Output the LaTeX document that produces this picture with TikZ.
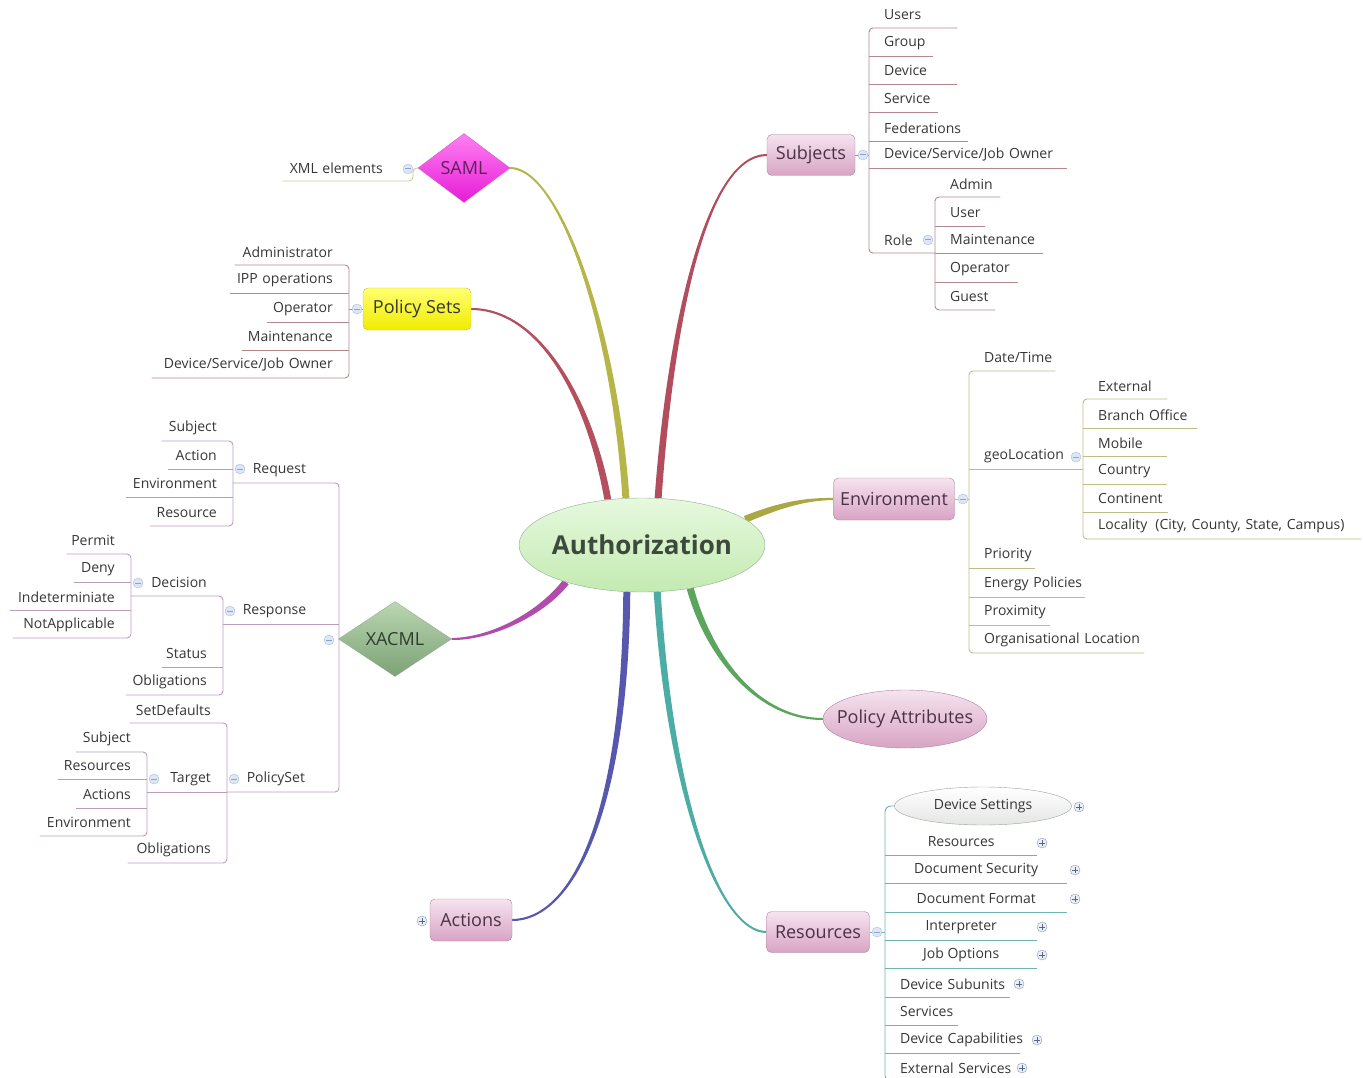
\documentclass[tikz,border=0pt]{standalone}
\usepackage{fontspec}
\setmainfont{Open Sans}
\usetikzlibrary{shapes.geometric,calc,backgrounds}

\definecolor{txt}{HTML}{363636}
\definecolor{pinkT}{HTML}{F6E3EF}
\definecolor{pinkB}{HTML}{D8A4C4}
\definecolor{pinkL}{HTML}{A98499}
\definecolor{pinkTxt}{HTML}{4A3246}
\definecolor{authT}{HTML}{E6F9DE}
\definecolor{authB}{HTML}{C4EAB2}
\definecolor{authL}{HTML}{8EAE89}
\definecolor{authTxt}{HTML}{3B4A3B}
\definecolor{ylwT}{HTML}{FFFF70}
\definecolor{ylwB}{HTML}{F0EC00}
\definecolor{ylwL}{HTML}{C8B540}
\definecolor{samlT}{HTML}{FF80F2}
\definecolor{samlB}{HTML}{E61CD6}
\definecolor{samlL}{HTML}{D45CC6}
\definecolor{samlTxt}{HTML}{5E1F5C}
\definecolor{xacT}{HTML}{BAD6B2}
\definecolor{xacB}{HTML}{7CA275}
\definecolor{xacL}{HTML}{98AE94}
\definecolor{xacTxt}{HTML}{2E3E2E}
\definecolor{setT}{HTML}{FFFFFF}
\definecolor{setB}{HTML}{E4E6E4}
\definecolor{setL}{HTML}{9AA39A}
\definecolor{iconF}{HTML}{DCE6F5}
\definecolor{iconL}{HTML}{AABDDD}
\definecolor{iconS}{HTML}{8EA4CF}
\definecolor{plusF}{HTML}{EAEFF7}
\definecolor{plusL}{HTML}{8C9BB5}
\definecolor{plusS}{HTML}{56668A}
\definecolor{bSubj}{HTML}{B24D5E}
\definecolor{bSaml}{HTML}{B5B54A}
\definecolor{bPset}{HTML}{B4505E}
\definecolor{bXac}{HTML}{B04CAA}
\definecolor{bEnv}{HTML}{A9A842}
\definecolor{bAttr}{HTML}{5CA55C}
\definecolor{bRes}{HTML}{4EACA6}
\definecolor{bAct}{HTML}{5757AE}
\definecolor{lSubj}{HTML}{B4878F}
\definecolor{lSaml}{HTML}{CACA8E}
\definecolor{lXac}{HTML}{BC9CBC}
\definecolor{lEnv}{HTML}{BDBD85}
\definecolor{lRes}{HTML}{6FB3B3}

\tikzset{
  leaf/.style={font=\fontsize{14}{16}\selectfont, text=txt, inner sep=0pt, minimum height=26pt},
  cleaf/.style={leaf, anchor=south west, minimum width=#1},
  rleaf/.style={leaf, anchor=south west, text width=#1, align=left, execute at begin node={\rule{15pt}{0pt}}},
  lleaf/.style={leaf, anchor=south east, text width=#1, align=right, execute at end node={\rule{16pt}{0pt}}},
  lhead/.style={leaf, anchor=south east, text width=#1, align=left, execute at begin node={\rule{20pt}{0pt}}},
  topic/.style={rectangle, rounded corners=5pt, draw=pinkL, top color=pinkT, bottom color=pinkB, text=pinkTxt, font=\fontsize{18}{20}\selectfont, inner sep=0pt},
  fold/.style={circle, draw=iconL, fill=iconF, minimum size=10pt, inner sep=0pt,
    path picture={\draw[iconS, line width=1pt] ([xshift=-3pt]path picture bounding box.center) -- ([xshift=3pt]path picture bounding box.center);}},
  unfold/.style={circle, draw=plusL, fill=plusF, minimum size=10pt, inner sep=0pt,
    path picture={\draw[plusS, line width=0.8pt] ([xshift=-3pt]path picture bounding box.center) -- ([xshift=3pt]path picture bounding box.center)
      ([yshift=-3pt]path picture bounding box.center) -- ([yshift=3pt]path picture bounding box.center);}},
  subjline/.style={draw=lSubj, line width=0.9pt},
  samlline/.style={draw=lSaml, line width=0.9pt},
  xacline/.style={draw=lXac, line width=0.9pt},
  envline/.style={draw=lEnv, line width=0.9pt},
  resline/.style={draw=lRes, line width=0.9pt}
}

% tapered main branch: colour, start, control 1, control 2, end, start half width, end half width
\newcommand{\branch}[7]{%
  \fill[#1] ($(#2)+(#6)$) .. controls ($(#3)+0.9*(#6)$) and ($(#4)+1.5*(#7)$) .. ($(#5)+(#7)$)
    -- ($(#5)-(#7)$) .. controls ($(#4)-1.5*(#7)$) and ($(#3)-0.9*(#6)$) .. ($(#2)-(#6)$) -- cycle;}

\begin{document}
\begin{tikzpicture}[x=1pt,y=-1pt]
    \useasboundingbox (0,0) rectangle (1363,1078);

    \node[ellipse, draw=authL, top color=authT, bottom color=authB, minimum width=246pt, minimum height=94pt, inner sep=0pt,
          label={[font=\bfseries\fontsize{26}{28}\selectfont, text=authTxt]center:Authorization}] (auth) at (642,545) {};

    \node[topic, minimum width=88pt, minimum height=41pt] (subj) at (811,155) {Subjects};
    \node[topic, minimum width=121pt, minimum height=42pt] (env) at (894,499) {Environment};
    \node[topic, minimum width=82pt, minimum height=42pt] (act) at (471,920) {Actions};
    \node[topic, minimum width=103pt, minimum height=41pt] (res) at (818,932) {Resources};
    \node[topic, ellipse, minimum width=164pt, minimum height=58pt,
          label={[font=\fontsize{18}{20}\selectfont, text=pinkTxt]center:Policy Attributes}] (attr) at (905,719) {};
    \node[topic, draw=ylwL, top color=ylwT, bottom color=ylwB, text=txt, minimum width=108pt, minimum height=42pt] (pset) at (417,309) {Policy Sets};
    \node[diamond, aspect=1.33, draw=samlL, top color=samlT, bottom color=samlB, text=samlTxt, font=\fontsize{18}{20}\selectfont,
          minimum width=92pt, minimum height=69pt, inner sep=0pt] (saml) at (464,168) {SAML};
    \node[diamond, aspect=1.5, draw=xacL, top color=xacT, bottom color=xacB, text=xacTxt, font=\fontsize{18}{20}\selectfont,
          minimum width=113pt, minimum height=75pt, inner sep=0pt] (xacml) at (395,639) {XACML};

    \node[rleaf=88] (sUsers) at (869,28) {Users};
    \node[rleaf=64] (sGroup) at (869,56) {Group};
    \node[rleaf=88] (sDevice) at (869,84) {Device};
    \node[rleaf=69] (sService) at (869,112) {Service};
    \node[rleaf=99] (sFed) at (869,141) {Federations};
    \node[rleaf=198] (sOwner) at (869,168) {\mbox{Device/Service/Job Owner}};
    \node[rleaf=66] (sRole) at (869,253) {Role};

    \node[rleaf=65] (rAdmin) at (935,197) {Admin};
    \node[rleaf=50] (rUser) at (935,226) {User};
    \node[rleaf=108] (rMaint) at (935,253) {Maintenance};
    \node[rleaf=83] (rOper) at (935,282) {Operator};
    \node[rleaf=60] (rGuest) at (935,310) {Guest};

    \node[lleaf=130, execute at end node={\rule{14pt}{0pt}}] (xml) at (413,181) {\mbox{XML elements}};

    \node[lleaf=114] (pAdmin) at (349,265) {Administrator};
    \node[lleaf=119] (pIPP) at (349,293) {\mbox{IPP operations}};
    \node[lleaf=82] (pOper) at (349,322) {Operator};
    \node[lleaf=107] (pMaint) at (349,350) {Maintenance};
    \node[lleaf=197] (pOwner) at (349,378) {\mbox{Device/Service/Job Owner}};

    \node[lhead=106] (xReq) at (339,483) {Request};
    \node[lhead=116] (xResp) at (339,624) {Response};
    \node[lhead=112] (xPS) at (339,792) {PolicySet};

    \node[lleaf=71] (qSubj) at (233,441) {Subject};
    \node[lleaf=65] (qAct) at (233,469) {Action};
    \node[lleaf=107] (qEnv) at (233,497) {Environment};
    \node[lleaf=83] (qRes) at (233,526) {Resource};

    \node[lleaf=92] (dDec) at (223,596) {Decision};
    \node[lleaf=61] (dStat) at (223,667) {Status};
    \node[lleaf=97] (dObl) at (223,695) {Obligations};

    \node[lleaf=64] (cPermit) at (131,554) {Permit};
    \node[lleaf=57] (cDeny) at (131,582) {Deny};
    \node[lleaf=121] (cIndet) at (131,610) {Indeterminiate};
    \node[lleaf=118] (cNotApp) at (131,638) {NotApplicable};

    \node[lleaf=97] (tDef) at (227,723) {SetDefaults};
    \node[lleaf=80] (tTarget) at (227,792) {Target};
    \node[lleaf=99] (tObl) at (227,863) {Obligations};

    \node[lleaf=71] (gSubj) at (147,752) {Subject};
    \node[lleaf=89] (gRes) at (147,779) {Resources};
    \node[lleaf=71] (gAct) at (147,808) {Actions};
    \node[lleaf=107] (gEnv) at (147,836) {Environment};

    \node[rleaf=86] (eDate) at (969,371) {Date/Time};
    \node[rleaf=114] (eGeo) at (969,469) {geoLocation};
    \node[rleaf=66] (ePrio) at (969,568) {Priority};
    \node[rleaf=116] (eEnergy) at (969,597) {\mbox{Energy Policies}};
    \node[rleaf=81] (eProx) at (969,625) {Proximity};
    \node[rleaf=175] (eOrg) at (969,653) {\mbox{Organisational Location}};

    \node[rleaf=84] (lExt) at (1083,399) {External};
    \node[rleaf=114] (lBranch) at (1083,428) {\mbox{Branch Office}};
    \node[rleaf=84] (lMobile) at (1083,456) {Mobile};
    \node[rleaf=84] (lCountry) at (1083,484) {Country};
    \node[rleaf=85] (lCont) at (1083,512) {Continent};
    \node[rleaf=278] (lLocal) at (1083,539) {\mbox{Locality\hspace{8pt}(City, County, State, Campus)}};

    \node[ellipse, draw=setL, top color=setT, bottom color=setB, font=\fontsize{14}{16}\selectfont, text=txt,
          minimum width=177pt, minimum height=38pt, inner sep=0pt] (rSet) at (983,806) {Device Settings};
    \node[cleaf=152] (rRes) at (885,855) {Resources};
    \node[cleaf=182] (rDocSec) at (885,883) {Document Security};
    \node[cleaf=182] (rDocFmt) at (885,912) {Document Format};
    \node[cleaf=152] (rInterp) at (885,940) {Interpreter};
    \node[cleaf=152] (rJob) at (885,968) {Job Options};
    \node[rleaf=125] (rSub) at (885,997) {\mbox{Device Subunits}};
    \node[rleaf=73] (rServ) at (885,1025) {Services};
    \node[rleaf=135] (rCap) at (885,1053) {\mbox{Device Capabilities}};
    \node[rleaf=125] (rExt) at (885,1081) {\mbox{External Services}};

    \begin{scope}[on background layer]
    \branch{bSubj}{auth.71}{670,330}{705,155}{subj.west}{3.5,0}{0,1}
    \branch{bSaml}{auth.109}{615,330}{560,168}{saml.east}{3.5,0}{0,-1}
    \branch{bPset}{auth.127}{590,400}{540,309}{pset.east}{3.5,0}{0,-1}
    \branch{bXac}{auth.206}{540,615}{490,639}{xacml.east}{-2.8,-2.2}{0,-1}
    \branch{bEnv}{auth.14}{780,505}{805,499}{env.west}{1.3,3.2}{0,1}
    \branch{bAttr}{auth.318}{710,660}{760,719}{attr.west}{-3.4,1}{0,1}
    \branch{bRes}{auth.288}{670,800}{720,932}{res.west}{-3.5,0}{0,1}
    \branch{bAct}{auth.252}{625,820}{570,920}{act.east}{-3.5,0}{0,-1}

    \draw[subjline] (subj.east) -- (subj.east -| sUsers.south west);
    \draw[subjline, rounded corners=4pt] (sUsers.south east) -- (sUsers.south west) -- (sRole.south west) -- (sRole.south east);
    \draw[subjline] (sGroup.south west) -- (sGroup.south east);
    \draw[subjline] (sDevice.south west) -- (sDevice.south east);
    \draw[subjline] (sService.south west) -- (sService.south east);
    \draw[subjline] (sFed.south west) -- (sFed.south east);
    \draw[subjline] (sOwner.south west) -- (sOwner.south east);
    \draw[subjline, rounded corners=4pt] (rAdmin.south east) -- (rAdmin.south west) -- (rGuest.south west) -- (rGuest.south east);
    \draw[subjline] (rUser.south west) -- (rUser.south east);
    \draw[subjline] (rMaint.south west) -- (rMaint.south east);
    \draw[subjline] (rOper.south west) -- (rOper.south east);

    \draw[samlline, rounded corners=4pt] (xml.south west) -- (xml.south east) -- (xml.south east |- saml.west) -- (saml.west);

    \draw[subjline] (pset.west) -- (pset.west -| pAdmin.south east);
    \draw[subjline, rounded corners=4pt] (pAdmin.south west) -- (pAdmin.south east) -- (pOwner.south east) -- (pOwner.south west);
    \draw[subjline] (pIPP.south west) -- (pIPP.south east);
    \draw[subjline] (pOper.south west) -- (pOper.south east);
    \draw[subjline] (pMaint.south west) -- (pMaint.south east);

    \draw[xacline, rounded corners=4pt] (xReq.south west) -- (xReq.south east) -- (xPS.south east) -- (xPS.south west);
    \draw[xacline] (xResp.south west) -- (xResp.south east);
    \draw[xacline, rounded corners=4pt] (qSubj.south west) -- (qSubj.south east) -- (qRes.south east) -- (qRes.south west);
    \draw[xacline] (qAct.south west) -- (qAct.south east);
    \draw[xacline] (qEnv.south west) -- (qEnv.south east);
    \draw[xacline, rounded corners=4pt] (dDec.south west) -- (dDec.south east) -- (dObl.south east) -- (dObl.south west);
    \draw[xacline] (dStat.south west) -- (dStat.south east);
    \draw[xacline, rounded corners=4pt] (cPermit.south west) -- (cPermit.south east) -- (cNotApp.south east) -- (cNotApp.south west);
    \draw[xacline] (cDeny.south west) -- (cDeny.south east);
    \draw[xacline] (cIndet.south west) -- (cIndet.south east);
    \draw[xacline, rounded corners=4pt] (tDef.south west) -- (tDef.south east) -- (tObl.south east) -- (tObl.south west);
    \draw[xacline] (tTarget.south west) -- (tTarget.south east);
    \draw[xacline, rounded corners=4pt] (gSubj.south west) -- (gSubj.south east) -- (gEnv.south east) -- (gEnv.south west);
    \draw[xacline] (gRes.south west) -- (gRes.south east);
    \draw[xacline] (gAct.south west) -- (gAct.south east);

    \draw[envline] (env.east) -- (env.east -| eDate.south west);
    \draw[envline, rounded corners=4pt] (eDate.south east) -- (eDate.south west) -- (eOrg.south west) -- (eOrg.south east);
    \draw[envline] (eGeo.south west) -- (eGeo.south east);
    \draw[envline] (ePrio.south west) -- (ePrio.south east);
    \draw[envline] (eEnergy.south west) -- (eEnergy.south east);
    \draw[envline] (eProx.south west) -- (eProx.south east);
    \draw[envline, rounded corners=4pt] (lExt.south east) -- (lExt.south west) -- (lLocal.south west) -- (lLocal.south east);
    \draw[envline] (lBranch.south west) -- (lBranch.south east);
    \draw[envline] (lMobile.south west) -- (lMobile.south east);
    \draw[envline] (lCountry.south west) -- (lCountry.south east);
    \draw[envline] (lCont.south west) -- (lCont.south east);

    \draw[resline] (res.east) -- (res.east -| rRes.south west);
    \draw[resline, rounded corners=6pt] (rSet.west) -| (rExt.south west) -- (rExt.south east);
    \draw[resline] (rRes.south west) -- (rRes.south east);
    \draw[resline] (rDocSec.south west) -- (rDocSec.south east);
    \draw[resline] (rDocFmt.south west) -- (rDocFmt.south east);
    \draw[resline] (rInterp.south west) -- (rInterp.south east);
    \draw[resline] (rJob.south west) -- (rJob.south east);
    \draw[resline] (rSub.south west) -- (rSub.south east);
    \draw[resline] (rServ.south west) -- (rServ.south east);
    \draw[resline] (rCap.south west) -- (rCap.south east);
    \end{scope}

    \node[fold] (iSubj) at (863,155) {};
    \node[fold] (iRole) at (928,240) {};
    \node[fold] (iPset) at (357,309) {};
    \node[fold] (iSaml) at (408,169) {};
    \node[fold] (iXac) at (329,640) {};
    \node[fold] (iReq) at (240,469) {};
    \node[fold] (iResp) at (230,611) {};
    \node[fold] (iDec) at (138,583) {};
    \node[fold] (iPS) at (234,779) {};
    \node[fold] (iTarget) at (154,779) {};
    \node[fold] (iEnv) at (963,499) {};
    \node[fold] (iGeo) at (1076,457) {};
    \node[fold] (iRes) at (877,932) {};

    \node[unfold] (iAct) at (422,921) {};
    \node[unfold] (iSet) at (1079,807) {};
    \node[unfold] (iRRes) at (1042,843) {};
    \node[unfold] (iDocSec) at (1075,870) {};
    \node[unfold] (iDocFmt) at (1075,899) {};
    \node[unfold] (iInterp) at (1042,927) {};
    \node[unfold] (iJob) at (1042,955) {};
    \node[unfold] (iSub) at (1019,984) {};
    \node[unfold] (iCap) at (1037,1040) {};
    \node[unfold] (iExt) at (1022,1068) {};
\end{tikzpicture}
\end{document}
